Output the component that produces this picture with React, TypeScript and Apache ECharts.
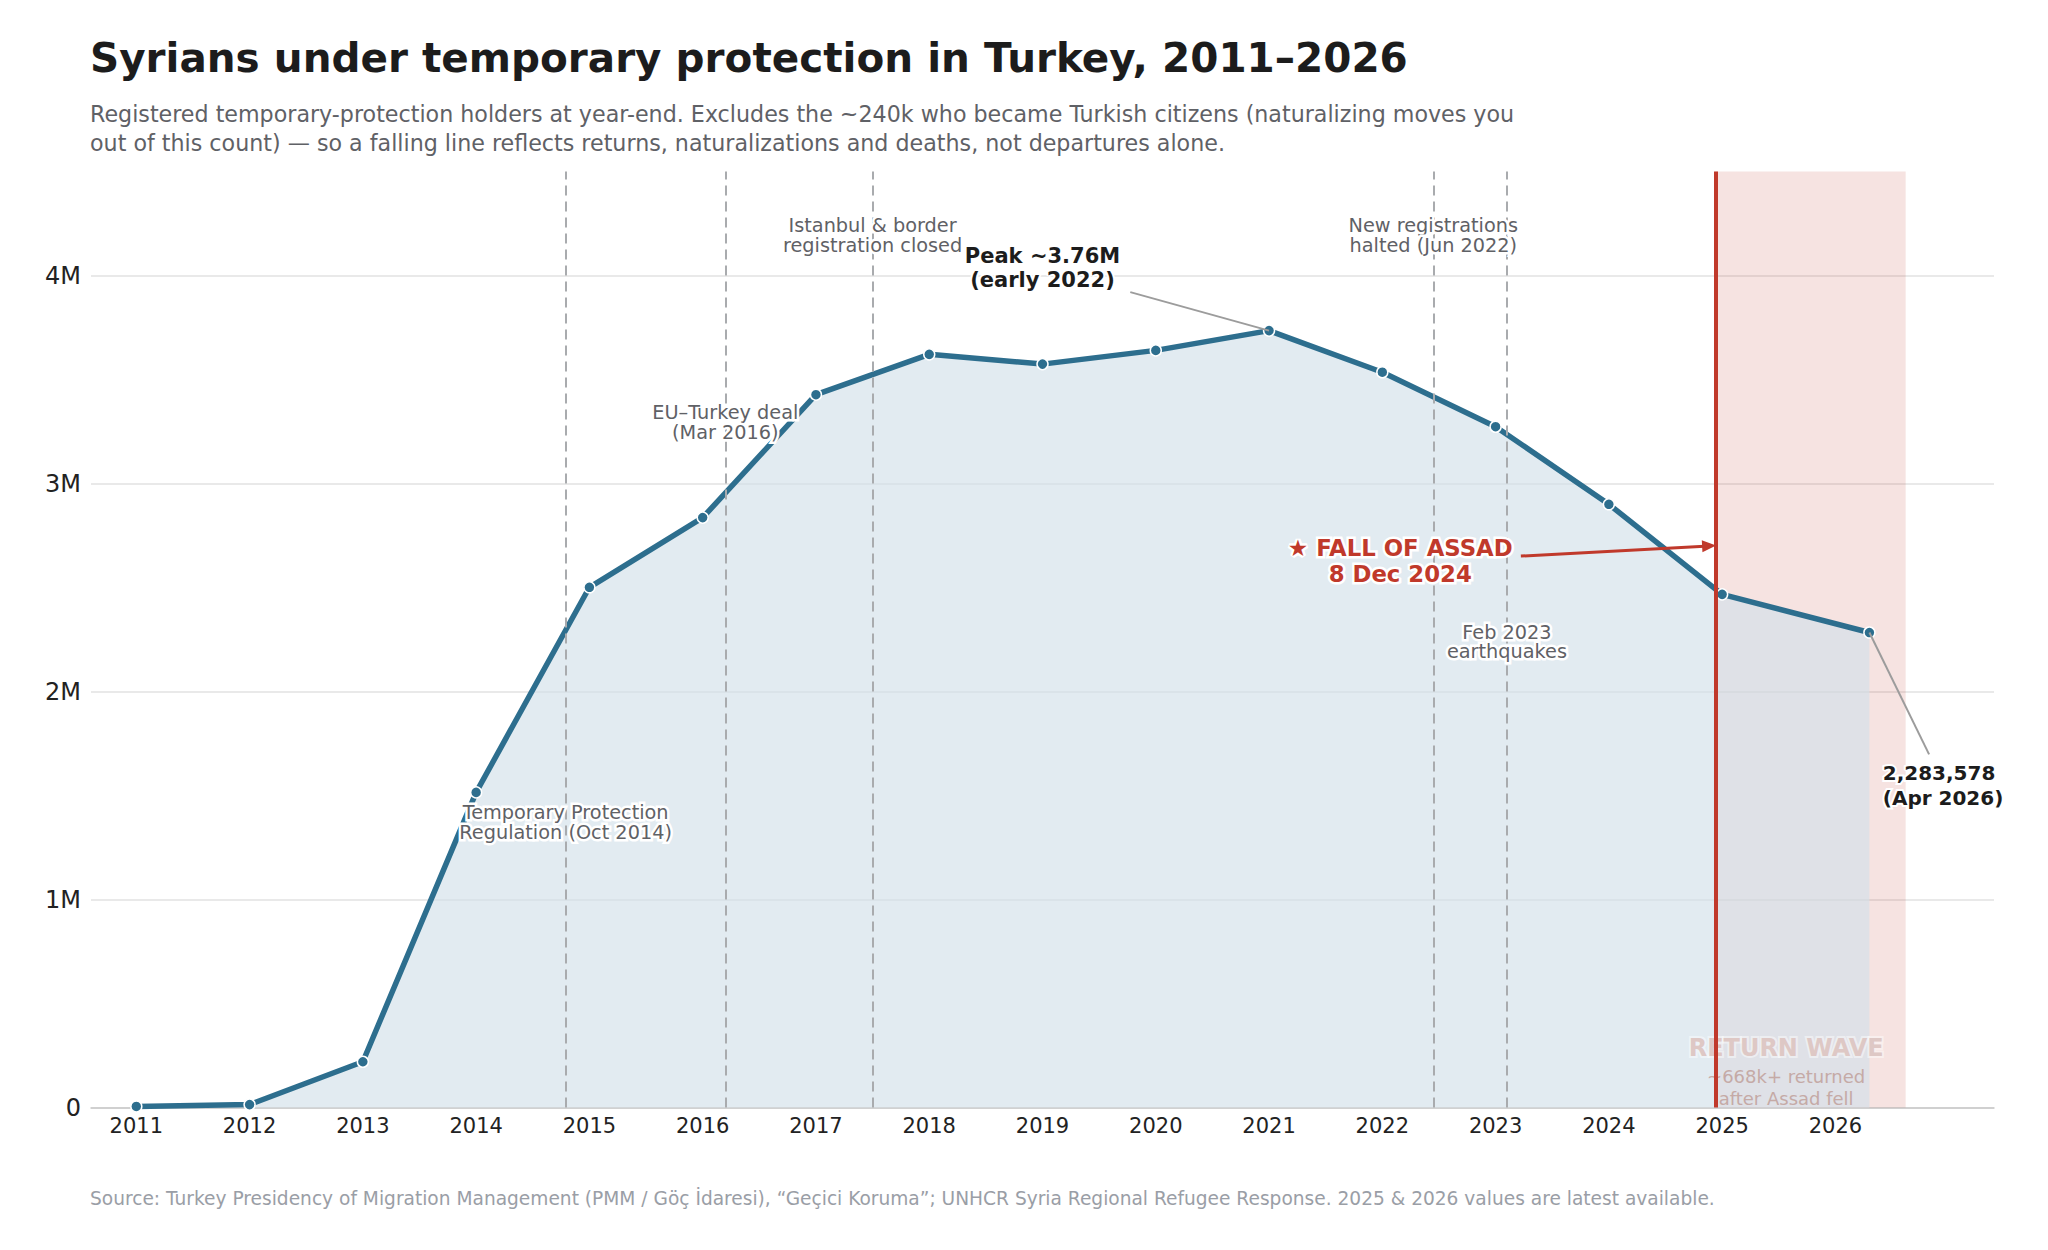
import React, { useEffect, useRef } from 'react';
import * as echarts from 'echarts';

// year-end registered holders (last point = Apr 2026)
const YEARS = [2011, 2012, 2013, 2014, 2015, 2016, 2017, 2018, 2019, 2020, 2021, 2022, 2023, 2024, 2025, 2026.3];
const HOLDERS = [
  5000, 14000, 220000, 1515000, 2501000, 2836000, 3427000, 3621000,
  3574000, 3640000, 3735000, 3535000, 3273000, 2900000, 2467000, 2283578,
];
const X_TICKS = [2011, 2012, 2013, 2014, 2015, 2016, 2017, 2018, 2019, 2020, 2021, 2022, 2023, 2024, 2025, 2026];

// policy events (decimal year) and their notes
const EVENT_DATES = [2014.79, 2016.2, 2017.5, 2022.45, 2023.1];
const EVENT_NOTES = [
  'Temporary Protection\nRegulation (Oct 2014)',
  'EU–Turkey deal\n(Mar 2016)',
  'Istanbul & border\nregistration closed',
  'New registrations\nhalted (Jun 2022)',
  'Feb 2023\nearthquakes',
];
const EVENT_NOTE_LEVELS = [1370000, 3293000, 4192000, 4192000, 2238000];

const ASSAD_FALL = 2024.94;
const RETURN_WAVE_END = 2026.62;

const FONT = '"DejaVu Sans", sans-serif';
const BLUE = '#2d6e8e';
const RED = '#c0392b';
const GREY_TEXT = '#5f6166';

const fmtY = (v: number) => (v === 0 ? '0' : `${v / 1e6}M`);

const App: React.FC = () => {
  const chartRef = useRef<HTMLDivElement>(null);

  useEffect(() => {
    if (!chartRef.current) return;
    const chart = echarts.init(chartRef.current, undefined, { renderer: 'svg' });

    const last = HOLDERS.length - 1;
    const peakIdx = HOLDERS.indexOf(Math.max(...HOLDERS));

    const eventLines = EVENT_DATES.map((x) => ({
      xAxis: x,
      lineStyle: { color: '#a9abae', width: 2, type: [10, 6] },
    }));

    const eventNotes = EVENT_DATES.map((x, i) => ({
      coord: [x, EVENT_NOTE_LEVELS[i]],
      label: {
        show: true,
        position: 'inside',
        formatter: EVENT_NOTES[i],
        fontFamily: FONT,
        fontSize: 19.3,
        lineHeight: 19.5,
        color: GREY_TEXT,
        textBorderColor: '#fff',
        textBorderWidth: 5,
      },
    }));

    const grey = { color: '#9c9c9c', width: 2, type: 'solid' };
    const redArrow = { color: RED, width: 3, type: 'solid' };

    chart.setOption({
      animation: false,
      grid: { left: 91, right: 54, top: 171.5, bottom: 142.5, containLabel: false },
      graphic: [
        {
          type: 'text',
          x: 90,
          y: 58,
          style: {
            text: 'Syrians under temporary protection in Turkey, 2011–2026',
            fontFamily: FONT,
            fontSize: 40.5,
            fontWeight: 'bold',
            fill: '#1c1c1c',
            verticalAlign: 'middle',
          },
        },
        {
          type: 'text',
          x: 90,
          y: 128.5,
          style: {
            text:
              'Registered temporary-protection holders at year-end. Excludes the ~240k who became Turkish citizens (naturalizing moves you\n' +
              'out of this count) — so a falling line reflects returns, naturalizations and deaths, not departures alone.',
            fontFamily: FONT,
            fontSize: 22.2,
            lineHeight: 28.4,
            fill: '#5f6166',
            verticalAlign: 'middle',
          },
        },
        {
          type: 'text',
          x: 90,
          y: 1198,
          style: {
            text:
              'Source: Turkey Presidency of Migration Management (PMM / Göç İdaresi), “Geçici Koruma”; UNHCR Syria Regional Refugee Response. 2025 & 2026 values are latest available.',
            fontFamily: FONT,
            fontSize: 18.6,
            fill: '#9a9ea6',
            verticalAlign: 'middle',
          },
        },
      ],
      xAxis: {
        type: 'value',
        min: 2010.6,
        max: 2027.4,
        splitLine: { show: false },
        axisTick: { show: false },
        axisLine: { show: true, onZero: true, lineStyle: { color: '#c8c8c8', width: 1.5 } },
        axisLabel: {
          customValues: X_TICKS,
          formatter: (v: number) => String(v),
          fontFamily: FONT,
          fontSize: 21,
          color: '#222',
          margin: 8,
        },
      },
      yAxis: {
        type: 'value',
        min: 0,
        max: 4500000,
        interval: 1000000,
        axisLine: { show: false },
        axisTick: { show: false },
        splitLine: { show: true, showMaxLine: false, lineStyle: { color: '#e9e9e9', width: 2 } },
        axisLabel: {
          showMaxLabel: false,
          formatter: fmtY,
          fontFamily: FONT,
          fontSize: 24,
          color: '#222',
          margin: 10,
        },
      },
      series: [
        {
          type: 'line',
          name: 'Syrians under temporary protection',
          data: YEARS.map((x, i) => [x, HOLDERS[i]]),
          z: 2,
          silent: true,
          symbol: 'circle',
          symbolSize: 11,
          showSymbol: true,
          lineStyle: { color: BLUE, width: 5.5 },
          itemStyle: { color: BLUE, borderColor: '#fff', borderWidth: 1.5 },
          areaStyle: { color: 'rgb(210,224,233)', opacity: 0.65 },
          emphasis: { disabled: true },
          markArea: {
            silent: true,
            itemStyle: { color: 'rgba(192,57,43,0.14)' },
            label: { show: false },
            data: [[{ xAxis: ASSAD_FALL }, { xAxis: RETURN_WAVE_END }]],
          },
          markLine: {
            silent: true,
            symbol: ['none', 'none'],
            label: { show: false },
            emphasis: { disabled: true },
            data: [
              ...eventLines,
              { xAxis: ASSAD_FALL, lineStyle: { color: RED, width: 4, type: 'solid' } },
              [
                { coord: [2019.775, 3920000], lineStyle: grey },
                { coord: [YEARS[peakIdx], HOLDERS[peakIdx]], lineStyle: grey },
              ],
              [
                { coord: [YEARS[last], HOLDERS[last]], lineStyle: grey },
                { coord: [2026.827, 1698000], lineStyle: grey },
              ],
              [
                { coord: [2023.223, 2651000], lineStyle: redArrow, symbol: 'none' },
                {
                  coord: [2024.885, 2700000],
                  lineStyle: redArrow,
                  symbol: 'triangle',
                  symbolSize: [12, 14],
                  itemStyle: { color: RED },
                },
              ],
            ],
          },
          markPoint: {
            z: 6,
            silent: true,
            symbol: 'circle',
            symbolSize: 0,
            itemStyle: { color: 'rgba(0,0,0,0)' },
            data: [
              ...eventNotes,
              {
                coord: [2019.0, 4036000],
                label: {
                  show: true,
                  position: 'inside',
                  formatter: 'Peak ~3.76M\n(early 2022)',
                  fontFamily: FONT,
                  fontSize: 21,
                  fontWeight: 'bold',
                  lineHeight: 24,
                  color: '#1c1c1c',
                  textBorderColor: '#fff',
                  textBorderWidth: 4,
                },
              },
              {
                coord: [2022.158, 2628000],
                label: {
                  show: true,
                  position: 'inside',
                  formatter: '★ FALL OF ASSAD\n8 Dec 2024',
                  fontFamily: FONT,
                  fontSize: 22.8,
                  fontWeight: 'bold',
                  lineHeight: 26.3,
                  color: RED,
                  textBorderColor: '#fff',
                  textBorderWidth: 5,
                },
              },
              {
                coord: [2026.418, 1548000],
                label: {
                  show: true,
                  position: 'right',
                  distance: 0,
                  align: 'left',
                  formatter: `${HOLDERS[last].toLocaleString('en-US')}\n(Apr 2026)`,
                  fontFamily: FONT,
                  fontSize: 20,
                  fontWeight: 'bold',
                  lineHeight: 25,
                  color: '#1c1c1c',
                  textBorderColor: '#fff',
                  textBorderWidth: 4,
                },
              },
            ],
          },
        },
        {
          // holder for the faint "return wave" note: above the area fill, below the red line
          type: 'scatter',
          name: 'return wave note',
          data: [],
          silent: true,
          markPoint: {
            z: 3,
            silent: true,
            symbol: 'circle',
            symbolSize: 0,
            itemStyle: { color: 'rgba(0,0,0,0)' },
            data: [
              {
                coord: [2025.565, 178000],
                label: {
                  show: true,
                  position: 'inside',
                  formatter: '{a|RETURN WAVE}\n{b|~668k+ returned}\n{b|after Assad fell}',
                  rich: {
                    a: {
                      fontFamily: FONT,
                      fontSize: 24,
                      fontWeight: 'bold',
                      lineHeight: 34,
                      color: '#dec8c5',
                      textBorderColor: 'rgba(255,255,255,0.45)',
                      textBorderWidth: 4,
                    },
                    b: {
                      fontFamily: FONT,
                      fontSize: 18,
                      lineHeight: 22.7,
                      color: '#c5aaa6',
                    },
                  },
                },
              },
            ],
          },
        },
      ],
    });

    return () => {
      chart.dispose();
    };
  }, []);

  return (
    <div
      ref={chartRef}
      style={{ position: 'fixed', left: 0, top: 0, width: '2048px', height: '1250px', background: '#fff' }}
    />
  );
};

export default App;
